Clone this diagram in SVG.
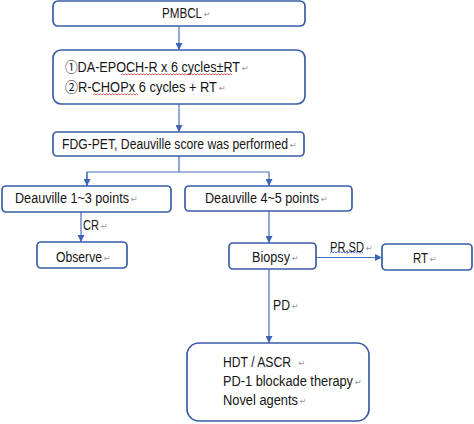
<svg xmlns="http://www.w3.org/2000/svg" width="474" height="424" viewBox="0 0 474 424">
<defs>
<marker id="arr" viewBox="0 0 10 10" refX="10" refY="5" markerWidth="7" markerHeight="7" markerUnits="userSpaceOnUse" orient="auto">
<path d="M0,0 L10,5 L0,10 z" fill="#3C63B4"/>
</marker>
</defs>
<style>
.box{fill:#fff;stroke:#3A5DA8;stroke-width:1.7}
.t{font-family:"Liberation Sans","Noto Sans CJK SC",Arial,sans-serif;font-size:14px;fill:#141414}
.rm{font-family:"DejaVu Sans",sans-serif;font-size:8.5px;fill:#9a9a9a}
.ln{fill:none;stroke:#4A72C0;stroke-width:1.2}
.wv{fill:none;stroke:#d03030;stroke-width:0.8}
.wvb{fill:none;stroke:#3A5DD0;stroke-width:0.8}
</style>
<rect width="474" height="424" fill="#fff"/>
<g id="connectors">
<path class="ln" d="M179,26 V50" marker-end="url(#arr)"/>
<path class="ln" d="M179,104 V132" marker-end="url(#arr)"/>
<path class="ln" d="M179,156 V172 H87 V186"/>
<path class="ln" d="M87,172 V186" marker-end="url(#arr)"/>
<path class="ln" d="M179,172 H269 V186" marker-end="url(#arr)"/>
<path class="ln" d="M81,212 V242" marker-end="url(#arr)"/>
<path class="ln" d="M269,211 V243" marker-end="url(#arr)"/>
<path class="ln" d="M316,257.5 H382" marker-end="url(#arr)"/>
<path class="ln" d="M269,269 V343" marker-end="url(#arr)"/>
<text class="t" x="83" y="230"><tspan textLength="16" lengthAdjust="spacingAndGlyphs">CR</tspan><tspan class="rm" dx="1.5" dy="-1">↵</tspan></text>
<text class="t" x="330" y="252"><tspan textLength="34" lengthAdjust="spacingAndGlyphs">PR,SD</tspan><tspan class="rm" dx="1.5" dy="-1">↵</tspan></text>
<path class="wvb" d="M330,253 l1.5,-1.2 l1.5,1.2 l1.5,-1.2 l1.5,1.2 l1.5,-1.2 l1.5,1.2 l1.5,-1.2 l1.5,1.2 l1.5,-1.2 l1.5,1.2 l1.5,-1.2 l1.5,1.2 l1.5,-1.2 l1.5,1.2 l1.5,-1.2 l1.5,1.2 l1.5,-1.2 l1.5,1.2 l1.5,-1.2 l1.5,1.2 l1.5,-1.2 l1.5,1.2"/>
<text class="t" x="273" y="310"><tspan textLength="17" lengthAdjust="spacingAndGlyphs">PD</tspan><tspan class="rm" dx="1.5" dy="-1">↵</tspan></text>
</g>
<g id="pmbcl">
<rect class="box" x="53" y="1" width="252" height="25" rx="5"/>
<text class="t" x="162" y="18"><tspan textLength="40" lengthAdjust="spacingAndGlyphs">PMBCL</tspan><tspan class="rm" dx="1.5" dy="-1">↵</tspan></text>
</g>
<g id="regimens">
<rect class="box" x="53" y="50" width="252" height="54" rx="8"/>
<text class="t" x="65" y="72"><tspan textLength="175" lengthAdjust="spacingAndGlyphs">①DA-EPOCH-R x 6 cycles±RT</tspan><tspan class="rm" dx="1.5" dy="-1">↵</tspan></text>
<path class="wv" d="M121,75 l1.5,-1.2 l1.5,1.2 l1.5,-1.2 l1.5,1.2 l1.5,-1.2 l1.5,1.2 l1.5,-1.2 l1.5,1.2 l1.5,-1.2 l1.5,1.2 l1.5,-1.2 l1.5,1.2 l1.5,-1.2 l1.5,1.2 l1.5,-1.2 l1.5,1.2 l1.5,-1.2 l1.5,1.2 l1.5,-1.2 l1.5,1.2 l1.5,-1.2 l1.5,1.2 l1.5,-1.2 l1.5,1.2 l1.5,-1.2 l1.5,1.2 l1.5,-1.2 l1.5,1.2 l1.5,-1.2 l1.5,1.2 l1.5,-1.2 l1.5,1.2 l1.5,-1.2 l1.5,1.2 l1.5,-1.2 l1.5,1.2 l1.5,-1.2 l1.5,1.2 l1.5,-1.2 l1.5,1.2 l1.5,-1.2 l1.5,1.2 l1.5,-1.2 l1.5,1.2 l1.5,-1.2 l1.5,1.2 l1.5,-1.2 l1.5,1.2 l1.5,-1.2 l1.5,1.2 l1.5,-1.2 l1.5,1.2 l1.5,-1.2 l1.5,1.2 l1.5,-1.2 l1.5,1.2 l1.5,-1.2 l1.5,1.2 l1.5,-1.2 l1.5,1.2 l1.5,-1.2 l1.5,1.2 l1.5,-1.2 l1.5,1.2 l1.5,-1.2 l1.5,1.2 l1.5,-1.2 l1.5,1.2 l1.5,-1.2 l1.5,1.2 l1.5,-1.2 l1.5,1.2 l1.5,-1.2 l1.5,1.2"/>
<text class="t" x="65" y="92"><tspan textLength="152" lengthAdjust="spacingAndGlyphs">②R-CHOPx 6 cycles + RT</tspan><tspan class="rm" dx="1.5" dy="-1">↵</tspan></text>
<path class="wv" d="M93,95 l1.5,-1.2 l1.5,1.2 l1.5,-1.2 l1.5,1.2 l1.5,-1.2 l1.5,1.2 l1.5,-1.2 l1.5,1.2 l1.5,-1.2 l1.5,1.2 l1.5,-1.2 l1.5,1.2 l1.5,-1.2 l1.5,1.2 l1.5,-1.2 l1.5,1.2 l1.5,-1.2 l1.5,1.2 l1.5,-1.2 l1.5,1.2 l1.5,-1.2 l1.5,1.2 l1.5,-1.2 l1.5,1.2 l1.5,-1.2 l1.5,1.2 l1.5,-1.2 l1.5,1.2 l1.5,-1.2 l1.5,1.2"/>
</g>
<g id="fdgpet">
<rect class="box" x="53" y="132" width="251" height="24" rx="4"/>
<text class="t" x="62" y="149"><tspan textLength="226" lengthAdjust="spacingAndGlyphs">FDG-PET, Deauville score was performed</tspan><tspan class="rm" dx="1.5" dy="-1">↵</tspan></text>
</g>
<g id="deauville13">
<rect class="box" x="2" y="186" width="169" height="26" rx="4"/>
<text class="t" x="15" y="203"><tspan textLength="114" lengthAdjust="spacingAndGlyphs">Deauville 1~3 points</tspan><tspan class="rm" dx="1.5" dy="-1">↵</tspan></text>
</g>
<g id="deauville45">
<rect class="box" x="185" y="186" width="167" height="25" rx="4"/>
<text class="t" x="205" y="203"><tspan textLength="114" lengthAdjust="spacingAndGlyphs">Deauville 4~5 points</tspan><tspan class="rm" dx="1.5" dy="-1">↵</tspan></text>
</g>
<g id="observe">
<rect class="box" x="37" y="242" width="90" height="26" rx="4"/>
<text class="t" x="56" y="262"><tspan textLength="46" lengthAdjust="spacingAndGlyphs">Observe</tspan><tspan class="rm" dx="1.5" dy="-1">↵</tspan></text>
</g>
<g id="biopsy">
<rect class="box" x="229" y="243" width="87" height="26" rx="4"/>
<text class="t" x="252" y="262"><tspan textLength="38" lengthAdjust="spacingAndGlyphs">Biopsy</tspan><tspan class="rm" dx="1.5" dy="-1">↵</tspan></text>
</g>
<g id="rt">
<rect class="box" x="382" y="244" width="90" height="26" rx="4"/>
<text class="t" x="413" y="263"><tspan textLength="15" lengthAdjust="spacingAndGlyphs">RT</tspan><tspan class="rm" dx="1.5" dy="-1">↵</tspan></text>
</g>
<g id="salvage">
<rect class="box" x="187" y="343" width="182" height="78" rx="12"/>
<text class="t" x="223" y="367"><tspan textLength="68" lengthAdjust="spacingAndGlyphs">HDT / ASCR</tspan><tspan class="rm" dx="7" dy="-1">↵</tspan></text>
<text class="t" x="223" y="386"><tspan textLength="130" lengthAdjust="spacingAndGlyphs">PD-1 blockade therapy</tspan><tspan class="rm" dx="1.5" dy="-1">↵</tspan></text>
<text class="t" x="223" y="405"><tspan textLength="75" lengthAdjust="spacingAndGlyphs">Novel agents</tspan><tspan class="rm" dx="1.5" dy="-1">↵</tspan></text>
</g>
</svg>
